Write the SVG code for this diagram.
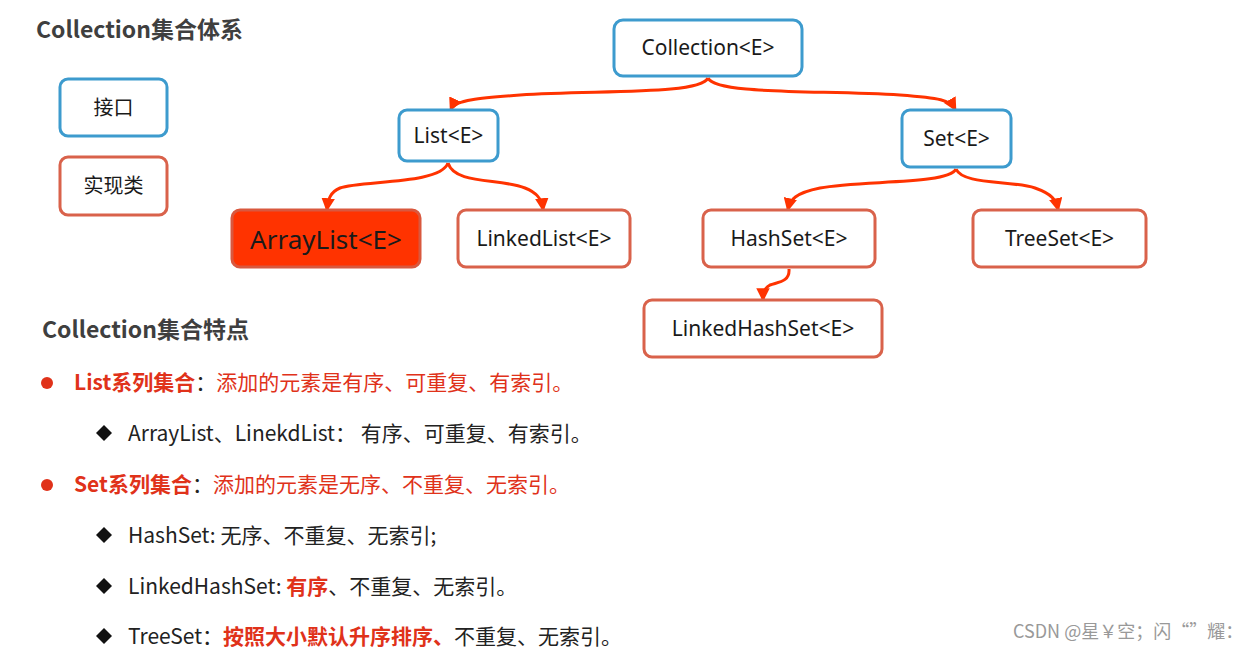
<svg xmlns="http://www.w3.org/2000/svg" width="1245" height="650" viewBox="0 0 1245 650">
<style>
text{font-family:"Noto Sans","Noto Sans CJK SC",sans-serif;}
.cjk{font-family:"Noto Sans CJK SC","Noto Sans",sans-serif;}
.iface{fill:#fff;stroke:#3d9bce;stroke-width:3;}
.impl{fill:#fff;stroke:#d9624b;stroke-width:3;}
.lbl{font-size:21px;fill:#1a1a1a;text-anchor:middle;}
.conn{fill:none;stroke:#ff3300;stroke-width:3;}
.title{font-size:23px;font-weight:bold;fill:#3f3f3f;}
.body{font-size:21px;fill:#222;}
.red{fill:#e0321a;}
.bold{font-weight:bold;}
</style>
<defs>
<marker id="arr" viewBox="0 0 10 10" refX="8" refY="5" markerWidth="4.5" markerHeight="4.5" orient="auto" markerUnits="strokeWidth">
<path d="M0,0 L10,5 L0,10 Z" fill="#ff3300"/>
</marker>
</defs>
<rect width="1245" height="650" fill="#fff"/>
<text class="title cjk" x="36" y="38">Collection集合体系</text>
<g id="legend-interface"><rect class="iface" x="60" y="79" width="107" height="57" rx="8"/><text class="lbl cjk" x="113.5" y="115" style="font-size:20px">接口</text></g>
<g id="legend-impl"><rect class="impl" x="60" y="157" width="107" height="58" rx="8"/><text class="lbl cjk" x="113.5" y="193" style="font-size:20px">实现类</text></g>
<g id="connectors">
<path class="conn" marker-end="url(#arr)" d="M708,78 C700,95 600,90 520,95 C480,98 455,100 451,109"/>
<path class="conn" marker-end="url(#arr)" d="M708,78 C716,95 820,90 900,95 C940,98 950,100 955,109"/>
<path class="conn" marker-end="url(#arr)" d="M448,163 C440,185 360,180 340,188 C330,192 328,200 327,209"/>
<path class="conn" marker-end="url(#arr)" d="M448,163 C455,185 500,178 525,188 C538,193 542,200 543,209"/>
<path class="conn" marker-end="url(#arr)" d="M956,169 C948,185 860,180 820,188 C795,193 790,200 788,209"/>
<path class="conn" marker-end="url(#arr)" d="M956,169 C963,185 1010,180 1035,188 C1052,194 1056,200 1058,209"/>
<path class="conn" marker-end="url(#arr)" d="M789,269 C790,282 778,282 770,285 C764,288 763,293 763,299"/>
</g>
<g id="collection"><rect class="iface" x="614" y="20" width="188" height="56" rx="9"/><text class="lbl" x="708" y="55">Collection&lt;E&gt;</text></g>
<g id="list"><rect class="iface" x="399" y="110" width="99" height="51" rx="8"/><text class="lbl" x="448.5" y="143">List&lt;E&gt;</text></g>
<g id="set"><rect class="iface" x="902" y="110" width="109" height="57" rx="8"/><text class="lbl" x="956.5" y="146">Set&lt;E&gt;</text></g>
<g id="arraylist"><rect x="232" y="210" width="188" height="57" rx="8" fill="#ff3300" stroke="#d9583e" stroke-width="3"/><text class="lbl" x="326" y="249" style="font-size:26px">ArrayList&lt;E&gt;</text></g>
<g id="linkedlist"><rect class="impl" x="458" y="210" width="172" height="57" rx="8"/><text class="lbl" x="544" y="246">LinkedList&lt;E&gt;</text></g>
<g id="hashset"><rect class="impl" x="703" y="210" width="172" height="57" rx="8"/><text class="lbl" x="789" y="246">HashSet&lt;E&gt;</text></g>
<g id="treeset"><rect class="impl" x="973" y="210" width="173" height="57" rx="8"/><text class="lbl" x="1059.5" y="246">TreeSet&lt;E&gt;</text></g>
<g id="linkedhashset"><rect class="impl" x="644" y="300" width="238" height="57" rx="8"/><text class="lbl" x="763" y="336">LinkedHashSet&lt;E&gt;</text></g>
<text class="title cjk" x="42" y="338">Collection集合特点</text>
<circle cx="47" cy="383" r="6" fill="#e0321a"/>
<text class="body cjk" x="74" y="390"><tspan class="red bold">List系列集合</tspan><tspan>：</tspan><tspan class="red">添加的元素是有序、可重复、有索引。</tspan></text>
<path d="M104,425 L112,433 L104,441 L96,433 Z" fill="#111"/>
<text class="body cjk" x="128" y="441">ArrayList、LinekdList： 有序、可重复、有索引。</text>
<circle cx="47" cy="485" r="6" fill="#e0321a"/>
<text class="body cjk" x="74" y="492"><tspan class="red bold">Set系列集合</tspan><tspan>：</tspan><tspan class="red">添加的元素是无序、不重复、无索引。</tspan></text>
<path d="M104,527 L112,535 L104,543 L96,535 Z" fill="#111"/>
<text class="body cjk" x="128" y="543">HashSet: 无序、不重复、无索引;</text>
<path d="M104,578 L112,586 L104,594 L96,586 Z" fill="#111"/>
<text class="body cjk" x="128" y="594">LinkedHashSet: <tspan class="red bold">有序</tspan>、不重复、无索引。</text>
<path d="M104,628 L112,636 L104,644 L96,636 Z" fill="#111"/>
<text class="body cjk" x="128" y="644">TreeSet：<tspan class="red bold">按照大小默认升序排序、</tspan>不重复、无索引。</text>
<text class="cjk" x="1013" y="638" style="font-size:18px;fill:#999">CSDN @星￥空；闪“”耀：</text>
</svg>
